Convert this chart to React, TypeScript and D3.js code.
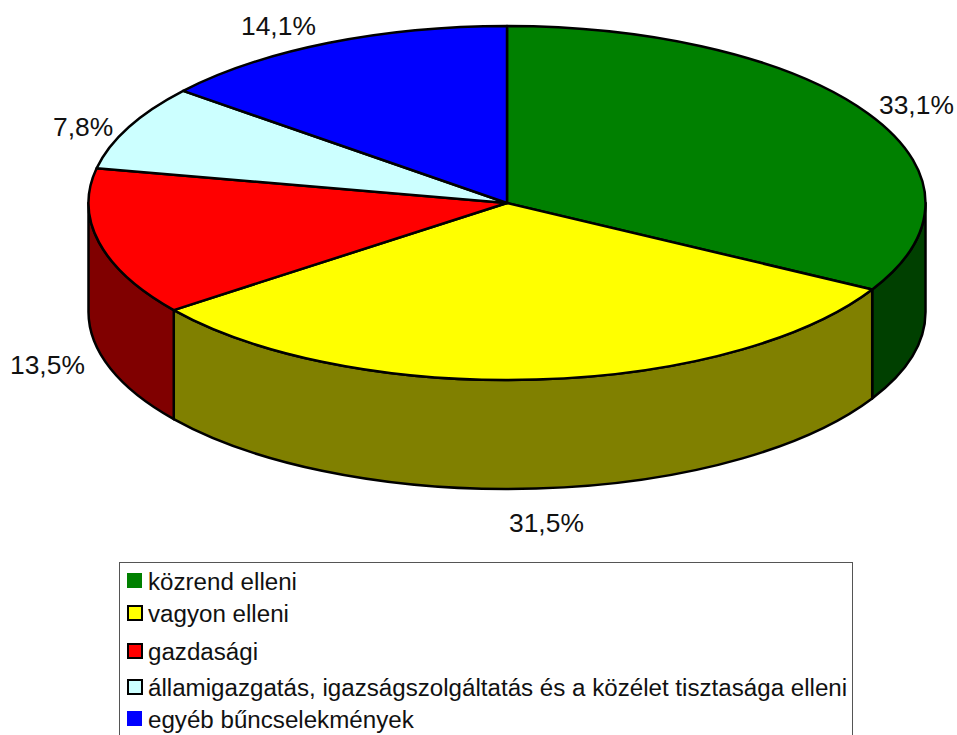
import * as d3 from 'd3'

const CATEGORIES = [
  'közrend elleni',
  'vagyon elleni',
  'gazdasági',
  'államigazgatás, igazságszolgáltatás és a közélet tisztasága elleni',
  'egyéb bűncselekmények',
]
const VALUES = [33.12, 31.54, 13.48, 7.78, 14.08]
const TOP_COLORS = ['#008000', '#FFFF00', '#FF0000', '#CCFFFF', '#0000FF']
const SIDE_COLORS = ['#004000', '#808000', '#800000', '#668080', '#000080']

// label anchors (text start x, baseline y), same order as VALUES
const LABEL_X = [879, 509, 10, 53, 241]
const LABEL_Y = [114, 532, 374, 136, 35]
const LEGEND_Y = [590, 622, 660, 696, 728]
const LEGEND_OUTLINED = [false, true, true, true, false]

const W = 957
const H = 735
const DEPTH = 109
const FONT = '"Liberation Sans", Arial, sans-serif'

const sx = d3.scaleLinear().domain([-1, 1]).range([88.5, 925.5])
const sy = d3.scaleLinear().domain([-1, 1]).range([26, 380])
const rx = (sx(1) - sx(-1)) / 2
const ry = (sy(1) - sy(-1)) / 2

const px = (a: number) => sx(Math.sin(a))
const py = (a: number) => sy(-Math.cos(a))

const arcs = d3.pie<number>().sort(null).value(d => d)(VALUES)

function topPath(a0: number, a1: number) {
  const large = a1 - a0 > Math.PI ? 1 : 0
  return `M${sx(0)},${sy(0)}L${px(a0)},${py(a0)}A${rx},${ry} 0 ${large} 1 ${px(a1)},${py(a1)}Z`
}

// only the front half of the ellipse (PI/2..3PI/2) shows a wall
function sidePath(a0: number, a1: number) {
  const s = Math.max(a0, Math.PI / 2)
  const e = Math.min(a1, (3 * Math.PI) / 2)
  if (e <= s) return null
  return (
    `M${px(s)},${py(s)}A${rx},${ry} 0 0 1 ${px(e)},${py(e)}` +
    `L${px(e)},${py(e) + DEPTH}A${rx},${ry} 0 0 0 ${px(s)},${py(s) + DEPTH}Z`
  )
}

export default function App() {
  return (
    <svg
      width={W}
      height={H}
      style={{ position: 'absolute', left: 0, top: 0, display: 'block', background: '#fff' }}
    >
      {arcs.map((d, i) => {
        const p = sidePath(d.startAngle, d.endAngle)
        return p ? (
          <path key={i} d={p} fill={SIDE_COLORS[i]} stroke="#000" strokeWidth={2.5} strokeLinejoin="round" />
        ) : null
      })}
      {arcs.map((d, i) => (
        <path
          key={i}
          d={topPath(d.startAngle, d.endAngle)}
          fill={TOP_COLORS[i]}
          stroke="#000"
          strokeWidth={2.5}
          strokeLinejoin="round"
        />
      ))}
      {VALUES.map((v, i) => (
        <text key={i} x={LABEL_X[i]} y={LABEL_Y[i]} fontFamily={FONT} fontSize={26.4} fill="#111">
          {v.toFixed(1).replace('.', ',')}%
        </text>
      ))}

      <rect x={119.5} y={562.5} width={733} height={190} fill="#fff" stroke="#555" strokeWidth={1} />
      {CATEGORIES.map((c, i) => (
        <g key={c}>
          <rect
            x={LEGEND_OUTLINED[i] ? 128 : 127}
            y={LEGEND_Y[i] - (LEGEND_OUTLINED[i] ? 16 : 17)}
            width={LEGEND_OUTLINED[i] ? 14 : 15}
            height={LEGEND_OUTLINED[i] ? 14 : 15}
            fill={TOP_COLORS[i]}
            stroke={LEGEND_OUTLINED[i] ? '#000' : 'none'}
            strokeWidth={2}
          />
          <text x={148} y={LEGEND_Y[i]} fontFamily={FONT} fontSize={24.15} fill="#111">
            {c}
          </text>
        </g>
      ))}
    </svg>
  )
}
